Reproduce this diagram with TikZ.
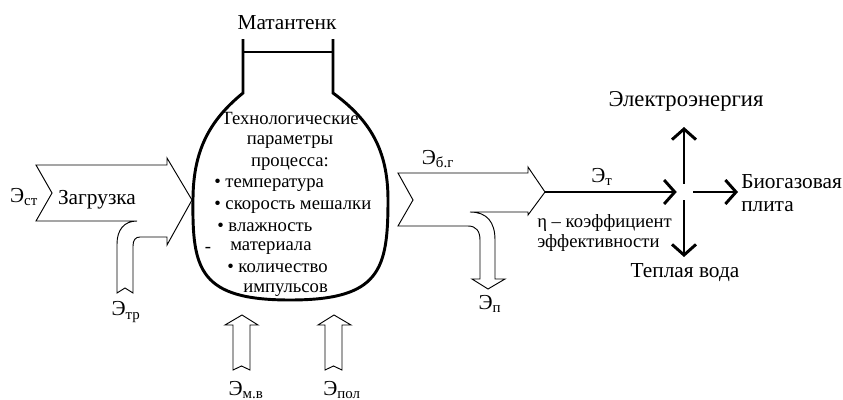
\documentclass[tikz,border=0pt]{standalone}
\usepackage{fontspec}
\setmainfont{Liberation Serif}
\usetikzlibrary{arrows.meta}

\tikzset{
  txt/.style={inner sep=0pt, font=\fontsize{14}{16}\selectfont},
  lbl/.style={inner sep=0pt, font=\fontsize{16}{17.5}\selectfont},
  flow/.style={draw, line width=0.7pt, line join=miter},
  wall/.style={line width=2.2pt},
  outflow/.style={line width=2.2pt, -{Straight Barb[length=8pt,width=18pt]}},
  hubnode/.style={circle, minimum size=12pt, inner sep=0pt},
}

\begin{document}
\begin{tikzpicture}[x=0.75pt,y=0.75pt,yscale=-1,xscale=1]
  \useasboundingbox (0,0) rectangle (843,400);

  % tank
  \draw[wall] (243,39) -- (243,93) .. controls (210,120) and (193,150) .. (193,200) .. controls (192,270) and (200,300) .. (290,300) .. controls (380,300) and (388,270) .. (388,200) .. controls (388,150) and (370,120) .. (333,93) -- (333,39) ;
  \draw[wall] (243,52) -- (333,52) ;
  \node[lbl] (tankname) at (287,23) {Матантенк};

  \node[txt] (par1) at (290,118) {Технологические};
  \node[txt] (par2) at (290,142) {параметры};
  \node[txt] (par3) at (290,164) {процесса:};
  \node[txt, anchor=west] (par4) at (214,185) {• температура};
  \node[txt, anchor=west] (par5) at (214,207) {• скорость мешалки};
  \node[txt, anchor=west] (par6) at (217,227) {• влажность};
  \node[txt] (dash) at (208,250) {-};
  \node[txt, anchor=west] (par7) at (230,248) {материала};
  \node[txt, anchor=west] (par8) at (227,268) {• количество};
  \node[txt, anchor=west] (par9) at (243,290) {импульсов};

  % input
  \draw[flow] (36,165) -- (167,165) -- (167,158) -- (192,200) -- (167,245) -- (167,237) -- (140,237) .. controls (135.5,237) and (133,240) .. (133,246) -- (133,293) -- (125,288) -- (117,293) -- (117,244) .. controls (117,230) and (124,221) .. (137,221) -- (36,221) -- (52,193) -- cycle ;
  \node[lbl] (est) at (24,197) {Э\textsubscript{ст}};
  \node[lbl] (load) at (97,200) {Загрузка};
  \node[lbl] (etr) at (126,312) {Э\textsubscript{тр}};

  \draw[flow] (233,370) -- (233,325) -- (225,325) -- (242,315) -- (258,325) -- (250,325) -- (250,370) -- (241.5,366) -- cycle ;
  \draw[flow] (325,370) -- (325,325) -- (318,325) -- (334,315) -- (351,325) -- (342,325) -- (342,370) -- (333.5,366) -- cycle ;
  \node[lbl] (emv) at (246,390) {Э\textsubscript{м.в}};
  \node[lbl] (epol) at (342,390) {Э\textsubscript{пол}};

  % output
  \draw[flow] (398,173) -- (528,173) -- (528,167) -- (545,192) -- (528,215) -- (528,212) -- (470,212) .. controls (487,212) and (495,222) .. (495,240) -- (495,279) -- (505,279) -- (488,289) -- (472,279) -- (480,279) -- (480,240) .. controls (480,231) and (476,226) .. (468,226) -- (398,226) -- (413,200) -- cycle ;
  \node[lbl] (ebg) at (438,159) {Э\textsubscript{б.г}};
  \node[lbl] (ep) at (490,304) {Э\textsubscript{п}};

  \coordinate (gtip) at (545,192);
  \node[hubnode] (hub) at (685,192) {};
  \coordinate (elecend) at (684,127);
  \coordinate (stoveend) at (738,192);
  \coordinate (waterend) at (684,257);
  \draw[outflow] (gtip) -- (hub.west) ;
  \draw[outflow] (hub.north -| elecend) -- (elecend) ;
  \draw[outflow] (hub.east) -- (stoveend) ;
  \draw[outflow] (hub.south -| waterend) -- (waterend) ;
  \node[lbl] (et) at (602,177) {Э\textsubscript{т}};
  \node[txt, anchor=west, align=left, font=\fontsize{14}{15}\selectfont] (eta) at (537,233) {η – коэффициент\\эффективности};
  \node[lbl, font=\fontsize{17}{18}\selectfont] (elec) at (686,101) {Электроэнергия};
  \node[lbl, anchor=west, align=left] (stove) at (741,193) {Биогазовая\\плита};
  \node[lbl] (water) at (685,273) {Теплая вода};
\end{tikzpicture}
\end{document}
